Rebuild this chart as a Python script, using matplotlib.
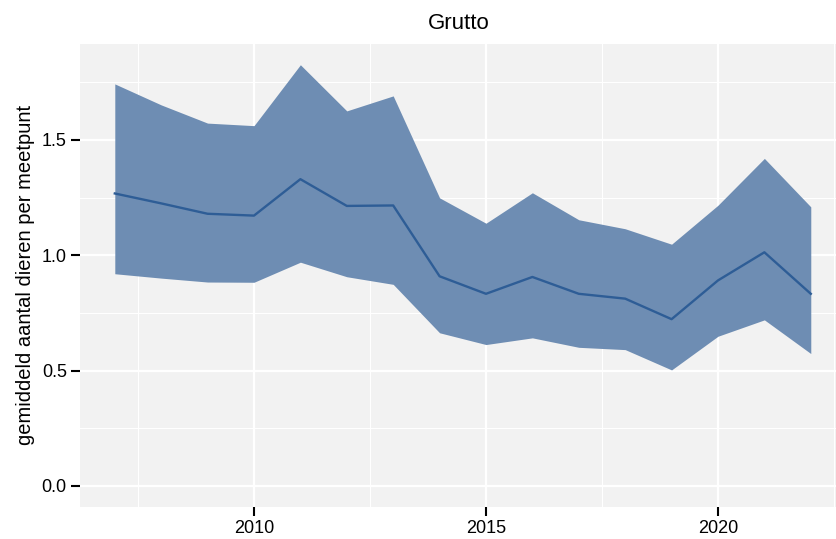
import matplotlib
matplotlib.use("Agg")
import matplotlib.pyplot as plt
from matplotlib.ticker import MultipleLocator

plt.rcParams['font.family'] = ['Liberation Sans', 'DejaVu Sans']

years = list(range(2007, 2023))
mean = [1.268, 1.225, 1.180, 1.172, 1.330, 1.214, 1.216, 0.909, 0.833, 0.906,
        0.833, 0.812, 0.723, 0.891, 1.013, 0.833]
upper = [1.743, 1.652, 1.573, 1.562, 1.826, 1.626, 1.691, 1.249, 1.139, 1.271,
         1.154, 1.115, 1.048, 1.217, 1.420, 1.210]
lower = [0.920, 0.901, 0.884, 0.883, 0.970, 0.907, 0.874, 0.664, 0.613, 0.642,
         0.601, 0.591, 0.503, 0.649, 0.720, 0.574]
title = "Grutto"
ylabel = "gemiddeld aantal dieren per meetpunt"

fig = plt.figure(figsize=(8.37, 5.39), dpi=100)
ax = fig.add_axes([80/837, 1-506.7/539, (837-80)/837, (506.7-44)/539])
ax.set_facecolor('#F2F2F2')
for s in ax.spines.values():
    s.set_visible(False)

ax.fill_between(years, lower, upper, color='#6E8DB3', linewidth=0, zorder=3)
ax.plot(years, mean, color='#2E5D96', linewidth=1.7, zorder=4)

ax.set_xlim(2006.25, 2022.565)
ax.set_ylim(-0.090, 1.916)
ax.xaxis.set_major_locator(MultipleLocator(5))
ax.xaxis.set_minor_locator(MultipleLocator(2.5))
ax.yaxis.set_major_locator(MultipleLocator(0.5))
ax.yaxis.set_minor_locator(MultipleLocator(0.25))
ax.yaxis.set_major_formatter(matplotlib.ticker.FormatStrFormatter('%.1f'))
ax.grid(which='major', color='white', linewidth=1.6, zorder=1)
ax.grid(which='minor', color='white', linewidth=0.8, zorder=1)
ax.set_axisbelow(True)
ax.tick_params(which='major', length=6.5, width=1.5, color='black', labelsize=13,
               labelcolor='black', pad=3)
ax.tick_params(which='minor', length=0)

ax.set_title(title, fontsize=16, pad=11)
ax.set_ylabel(ylabel, fontsize=14.5, labelpad=5)

fig.savefig('out.png', dpi=100)
